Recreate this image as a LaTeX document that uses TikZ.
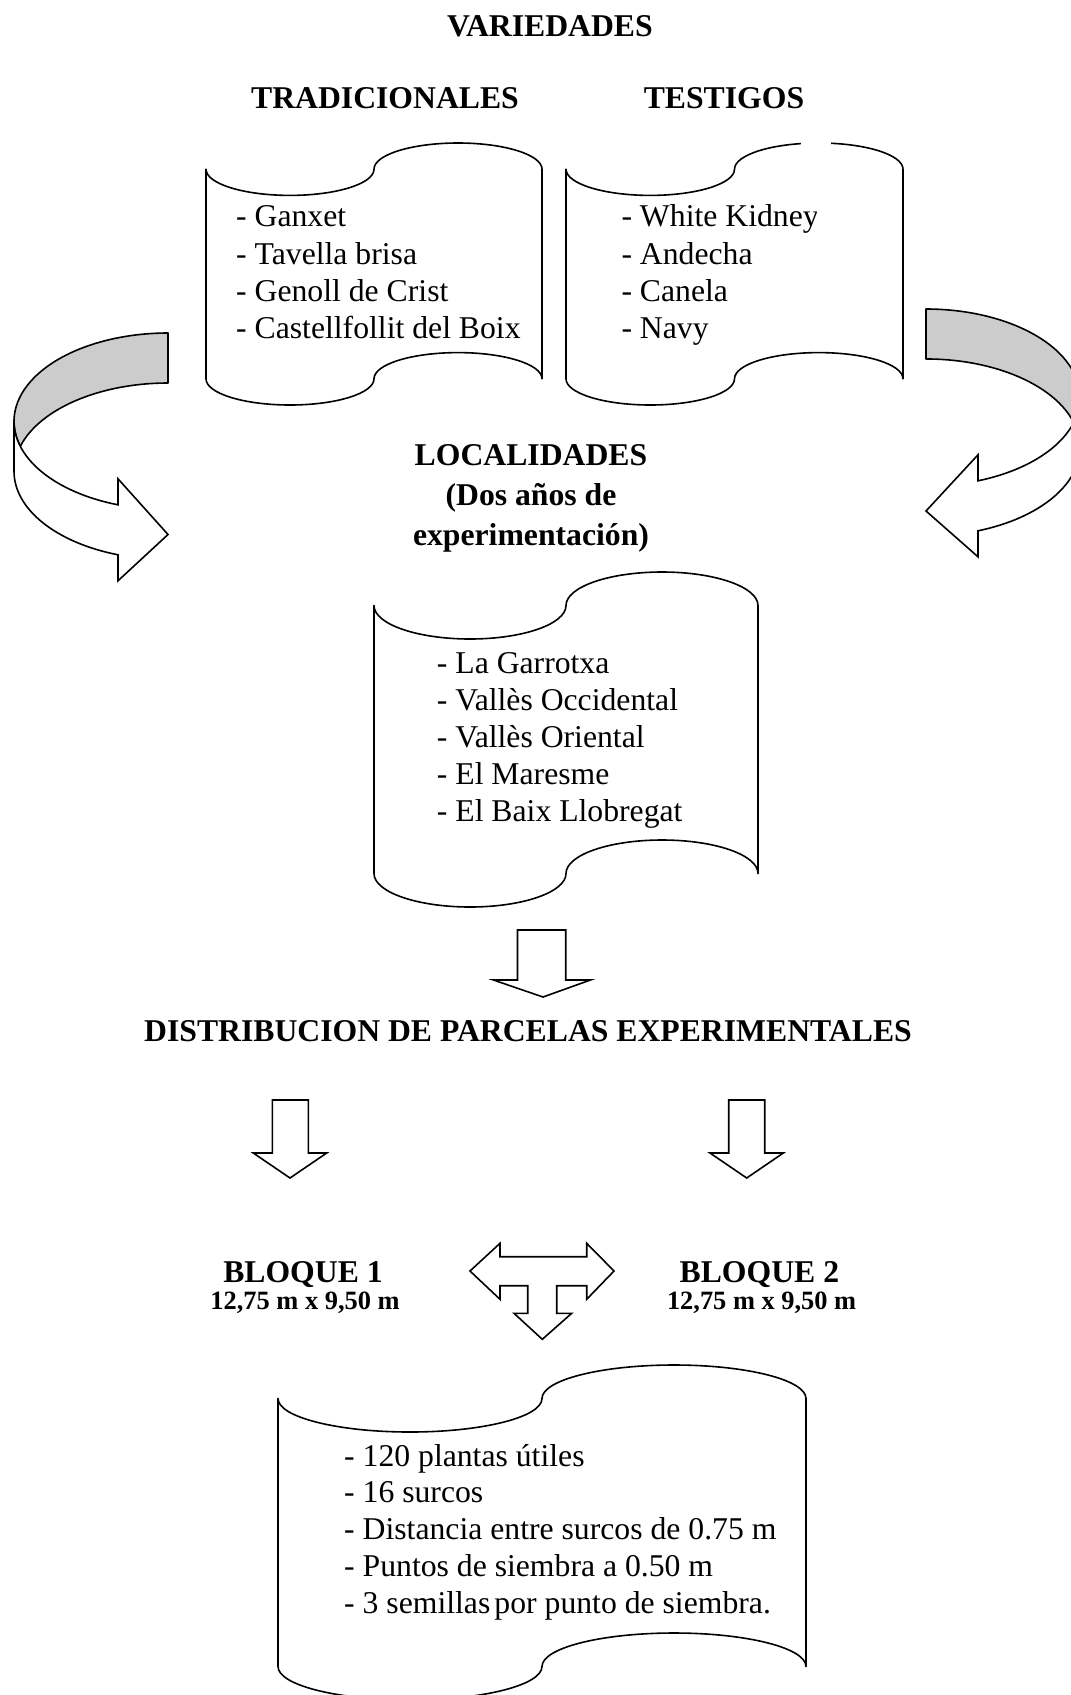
\documentclass[tikz,border=0pt]{standalone}
\usepackage{fontspec}
\setmainfont{Liberation Serif}
\newcommand{\tapeshape}[4]{%
  \pgfmathsetmacro\tpA{(#3-#1)/4}%
  \pgfmathsetmacro\tpB{(#4-#2)/10}%
  \draw[tape] (#1,#2+\tpB)
     arc[start angle=180,end angle=0,x radius=\tpA,y radius=\tpB]
     arc[start angle=180,end angle=360,x radius=\tpA,y radius=\tpB]
     -- (#3,#4-\tpB)
     arc[start angle=0,end angle=-180,x radius=\tpA,y radius=\tpB]
     arc[start angle=0,end angle=180,x radius=\tpA,y radius=\tpB]
     -- cycle;%
}
\begin{document}
\begin{tikzpicture}[x=1pt,y=-1pt,
  tape/.style={draw=black,fill=white,line width=1.6pt,line join=round},
  blk/.style={draw=black,fill=white,line width=1.6pt,line join=miter},
  band/.style={draw=black,fill=gray!40,line width=1.6pt,line join=round},
  txt/.style={inner sep=0pt,font=\fontsize{31.7}{37.1}\selectfont},
  hd/.style={inner sep=0pt,font=\fontsize{31.7}{38}\selectfont\bfseries},
  sm/.style={inner sep=0pt,font=\fontsize{26.4}{30}\selectfont\bfseries}]
\clip (0,0) rectangle (1071,1695);
\fill[white] (0,0) rectangle (1071,1695);

% ---------- scrolls (punched tape shapes)
\tapeshape{206}{143}{542}{405}
\tapeshape{566}{143}{903}{405}
\tapeshape{374}{572}{758}{907}
\tapeshape{278}{1365}{806}{1700}
% small gap in the top edge of the right scroll
\fill[white] (801,136) rectangle (831,152);

% ---------- left curved arrow
\draw[band] (168,333) arc[start angle=270,end angle=163.55,x radius=154,y radius=88.3]
   arc[start angle=196.45,end angle=270,x radius=154,y radius=88.3] -- cycle;
\draw[blk] (14,421.3) arc[start angle=180,end angle=108.95,x radius=154,y radius=88.3]
   -- (118,478.8) -- (168,534.5) -- (118,580.8) -- (118,554.8)
   arc[start angle=108.95,end angle=180,x radius=154,y radius=88.3] -- cycle;

% ---------- right curved arrow
\draw[band] (926,309) arc[start angle=270,end angle=376.4,x radius=154,y radius=88.5]
   arc[start angle=-16.4,end angle=-90,x radius=154,y radius=88.5] -- cycle;
\draw[blk] (1080,397.5) arc[start angle=0,end angle=70.27,x radius=154,y radius=88.5]
   -- (978,454.8) -- (926,511) -- (978,556.8) -- (978,530.8)
   arc[start angle=70.27,end angle=0,x radius=154,y radius=88.5] -- cycle;

% ---------- block down arrows
\draw[blk] (517.5,930) -- (565.7,930) -- (565.7,980) -- (590.4,980) -- (543,997)
   -- (493.4,980) -- (517.5,980) -- cycle;
\draw[blk] (272.3,1100) -- (308.3,1100) -- (308.3,1153) -- (326.7,1153) -- (290,1178)
   -- (253.3,1153) -- (272.3,1153) -- cycle;
\draw[blk] (728.7,1100) -- (764.7,1100) -- (764.7,1153) -- (783.3,1153) -- (746.7,1178)
   -- (710,1153) -- (728.7,1153) -- cycle;

% ---------- left-right-down arrow
\draw[blk] (470,1271) -- (500,1243.3) -- (500,1256.7) -- (586.7,1256.7) -- (586.7,1243.3)
   -- (614,1271) -- (586.7,1299.3) -- (586.7,1285.7) -- (556.7,1285.7) -- (556.7,1313.3)
   -- (571.7,1313.3) -- (542.3,1339.3) -- (514,1313.3) -- (527.7,1313.3) -- (527.7,1285.7)
   -- (500,1285.7) -- (500,1299.3) -- cycle;

% ---------- headings
\node[hd,anchor=base] (var) at (550,36.7) {VARIEDADES};
\node[hd,anchor=base] (trad) at (385,108.3) {TRADICIONALES};
\node[hd,anchor=base] (test) at (724,108.3) {TESTIGOS};

% ---------- traditional list
\node[txt,anchor=base west] (tr1) at (236,226.7) {- Ganxet};
\node[txt,anchor=base west] (tr2) at (236,264.0) {- Tavella brisa};
\node[txt,anchor=base west] (tr3) at (236,301.3) {- Genoll de Crist};
\node[txt,anchor=base west] (tr4) at (236,338.5) {- Castellfollit del Boix};

% ---------- control list
\begin{scope}
\clip (600,150) rectangle (816,250);
\node[txt,anchor=base west] (ts1) at (621.3,226.7) {- White Kidney};
\end{scope}
\node[txt,anchor=base west] (ts2) at (621.3,264.0) {- Andecha};
\node[txt,anchor=base west] (ts3) at (621.3,301.3) {- Canela};
\node[txt,anchor=base west] (ts4) at (621.3,338.5) {- Navy};

% ---------- localities
\node[hd,anchor=base] (loc1) at (531,465) {LOCALIDADES};
\node[hd,anchor=base] (loc2) at (531,505) {(Dos años de};
\node[hd,anchor=base] (loc3) at (531,545) {experimentación)};

\node[txt,anchor=base west] (l1) at (436.7,673.5) {- La Garrotxa};
\node[txt,anchor=base west] (l2) at (436.7,710.6) {- Vallès Occidental};
\node[txt,anchor=base west] (l3) at (436.7,747.7) {- Vallès Oriental};
\node[txt,anchor=base west] (l4) at (436.7,784.8) {- El Maresme};
\node[txt,anchor=base west] (l5) at (436.7,821.9) {- El Baix Llobregat};

% ---------- distribution
\node[hd,anchor=base] (dist) at (528,1041) {DISTRIBUCION DE PARCELAS EXPERIMENTALES};

\node[hd,anchor=base] (b1) at (303,1282.7) {BLOQUE 1};
\node[sm,anchor=base] (b1d) at (305,1309.3) {12,75 m x 9,50 m};
\node[hd,anchor=base] (b2) at (759.4,1282.7) {BLOQUE 2};
\node[sm,anchor=base] (b2d) at (761.6,1309.3) {12,75 m x 9,50 m};

% ---------- plot details
\node[txt,anchor=base west] (p1) at (344,1466) {- 120 plantas útiles};
\node[txt,anchor=base west] (p2) at (344,1502.9) {- 16 surcos};
\node[txt,anchor=base west] (p3) at (344,1539.8) {- Distancia entre surcos de 0.75 m};
\node[txt,anchor=base west] (p4) at (344,1576.7) {- Puntos de siembra a 0.50 m};
\node[txt,anchor=base west] (p5) at (344,1613.6) {- 3 semillas\hspace{-0.12em} por punto de siembra.};
\end{tikzpicture}
\end{document}
